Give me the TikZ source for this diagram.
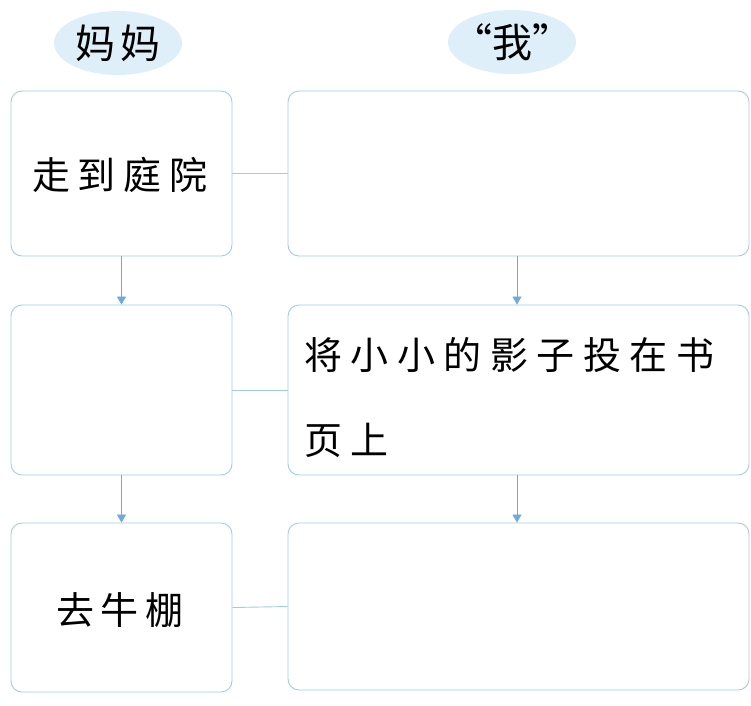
\documentclass[tikz,border=0pt]{standalone}
\usepackage{fontspec}
\newfontfamily\cjk{Noto Sans CJK SC}
\usetikzlibrary{arrows.meta,shapes.geometric}
\definecolor{boxline}{RGB}{160,205,228}
\definecolor{ellfill}{RGB}{222,239,249}
\definecolor{arrowc}{RGB}{110,170,220}
\begin{document}
\begin{tikzpicture}[x=1pt,y=-1pt,
  box/.style={draw=boxline,line width=0.9pt,rounded corners=11pt},
  head/.style={ellipse,fill=ellfill,minimum width=128pt,minimum height=64pt,inner sep=0pt},
  txt/.style={font=\cjk\fontsize{38}{44}\selectfont,inner sep=0pt},
  htxt/.style={font=\cjk\fontsize{40}{44}\selectfont,inner sep=0pt},
  flow/.style={draw=arrowc,line width=0.8pt,-{Triangle[length=8pt,width=9pt]}},
  link/.style={draw=boxline,line width=0.9pt}]
\useasboundingbox (0,0) rectangle (751,705);
% headers
\node[head] (h1) at (118,43) {};
\node[htxt] (h1t) at (118,43) {妈\hspace{5pt}妈};
\node[head] (h2) at (512,42) {};
\node[htxt] (h2t) at (512,42) {“我”};
% boxes
\node[box,minimum width=221pt,minimum height=165pt,inner sep=0pt] (l1) at (121.5,173.5) {};
\node[box,minimum width=221pt,minimum height=170pt,inner sep=0pt] (l2) at (121.5,390) {};
\node[box,minimum width=221pt,minimum height=169pt,inner sep=0pt] (l3) at (121.5,607.5) {};
\node[box,minimum width=461pt,minimum height=165pt,inner sep=0pt] (r1) at (518.5,173.5) {};
\node[box,minimum width=461pt,minimum height=170pt,inner sep=0pt] (r2) at (518.5,390) {};
\node[box,minimum width=461pt,minimum height=167pt,inner sep=0pt] (r3) at (518.5,606.5) {};
% texts
\node[txt] (t1) at (120,175) {走\hspace{8pt}到\hspace{8pt}庭\hspace{8pt}院};
\node[txt,anchor=west] (t2a) at (304,355) {将\hspace{8.5pt}小\hspace{8.5pt}小\hspace{8.5pt}的\hspace{8.5pt}影\hspace{8.5pt}子\hspace{8.5pt}投\hspace{8.5pt}在\hspace{8.5pt}书};
\node[txt,anchor=west] (t2b) at (304,440) {页\hspace{8.5pt}上};
\node[txt] (t3) at (120,610) {去\hspace{7pt}牛\hspace{7pt}棚};
% arrows
\draw[flow] (l1.south) -- (l2.north);
\draw[flow] (l2.south) -- (l3.north);
\draw[flow] ([xshift=-1.5pt]r1.south) -- ([xshift=-1.5pt]r2.north);
\draw[flow] ([xshift=-1.5pt]r2.south) -- ([xshift=-1.5pt]r3.north);
% links
\draw[link] (l1.east) -- (r1.west);
\draw[link] (l2.east) -- (r2.west);
\draw[link] (l3.east) -- (r3.west);
\end{tikzpicture}
\end{document}
